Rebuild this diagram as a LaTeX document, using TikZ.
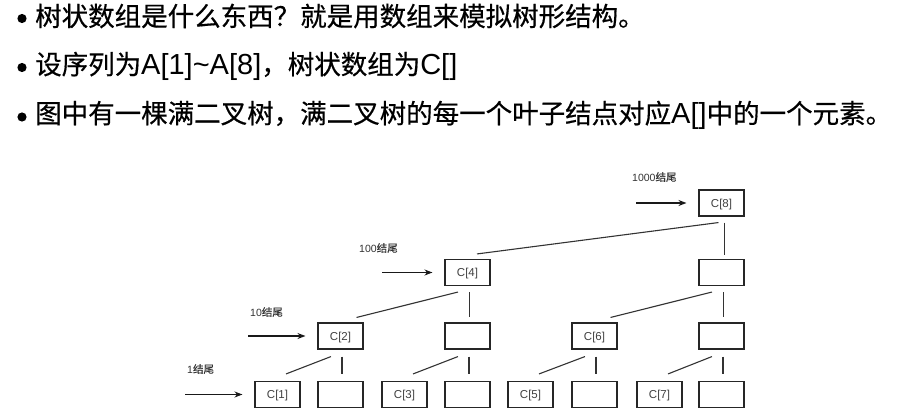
\documentclass[tikz,border=0pt]{standalone}
\usepackage{fontspec}
\setmainfont{Liberation Sans}
\newfontfamily\cjk{Noto Sans CJK SC}
\newfontfamily\cjkb{Noto Sans CJK SC}[FakeBold=0.5]
\usetikzlibrary{calc,arrows.meta}
\begin{document}
\begin{tikzpicture}[x=1pt,y=-1pt,
  line/.style={anchor=west,inner sep=0pt,font=\fontsize{26.5}{28}\selectfont},
  bul/.style={fill=black},
  box/.style={draw=black!85,line width=1.1pt,minimum width=45pt,minimum height=26pt,inner sep=0pt,text depth=0pt,font=\fontsize{11.5}{13}\selectfont,text=black!75},
  edge/.style={draw=black!80,line width=1.1pt},
  arr/.style={-{Stealth[length=8pt,width=6pt]},line width=1.1pt,draw=black!90,shorten >=12pt},
  lbl/.style={anchor=west,inner sep=0pt,font=\fontsize{10.5}{12}\selectfont,text=black!80}]
\useasboundingbox (0,0) rectangle (914,409);
\newcommand\latn[1]{{\fontsize{29}{30}\selectfont #1}}
% top text
\fill[bul] (22,18.5) circle (4.6pt);
\fill[bul] (22,67.5) circle (4.6pt);
\fill[bul] (22,117) circle (4.6pt);
\node[line] (t1) at (35,16) {\cjkb 树状数组是什么东西？就是用数组来模拟树形结构。};
\node[line] (t2) at (35,66) {{\cjkb 设序列为}\latn{A[1]\char`\~A[8]}{\cjkb ，树状数组为}\latn{C[]}};
\node[line] (t3) at (35,115) {{\cjkb 图中有一棵满二叉树，满二叉树的每一个叶子结点对应}\latn{A[]}{\cjkb 中的一个元素。}};
% leaves
\node[box] (c1) at (277.5,394.5) {C[1]};
\node[box] (c2l) at (340.5,394.5) {};
\node[box] (c3) at (404.5,394.5) {C[3]};
\node[box] (c4l) at (467.5,394.5) {};
\node[box] (c5) at (530.5,394.5) {C[5]};
\node[box] (c6l) at (594.5,394.5) {};
\node[box] (c7) at (659.5,394.5) {C[7]};
\node[box] (c8l) at (721.5,394.5) {};
% level 2
\node[box] (c2) at (340.5,336) {C[2]};
\node[box] (b4) at (467.5,336) {};
\node[box] (c6) at (594.5,336) {C[6]};
\node[box] (b8) at (721.5,336) {};
% level 3
\node[box] (c4) at (467.5,272.5) {C[4]};
\node[box] (bb8) at (721.5,272.5) {};
% level 4
\node[box] (c8) at (721.5,203) {C[8]};
% edges level2 -> leaves
\foreach \p/\a/\b in {c2/c1/c2l, b4/c3/c4l, c6/c5/c6l, b8/c7/c8l}{
  \draw[edge] ($(\p.south)+(-9.5,7)$) -- ($(\a.north)+(8.5,-7)$);
  \draw[edge] ($(\p.south)+(1.5,7)$) -- ($(\b.north)+(1.5,-7)$);
}
% level3 -> level2
\foreach \p/\a/\b in {c4/c2/b4, bb8/c6/b8}{
  \draw[edge] ($(\p.south)+(-9.5,6)$) -- ($(\a.north)+(16,-5)$);
  \draw[edge] ($(\p.south)+(2,6)$) -- ($(\b.north)+(2,-5)$);
}
% level4 -> level3
\draw[edge] ($(c8.south)+(-3,6)$) -- ($(c4.north)+(9.5,-5)$);
\draw[edge] ($(c8.south)+(3,6)$) -- ($(bb8.north)+(3,-4)$);
% arrows and labels
\coordinate (a1) at (185,394.5);
\coordinate (a2) at (248,336);
\coordinate (a3) at (382,272.5);
\coordinate (a4) at (636,203);
\draw[arr] (a1) -- (c1.west);
\draw[arr] (a2) -- (c2.west);
\draw[arr] (a3) -- (c4.west);
\draw[arr] (a4) -- (c8.west);
\node[lbl] (l1) at (187,369) {1{\cjkb 结尾}};
\node[lbl] (l2) at (250,312) {10{\cjkb 结尾}};
\node[lbl] (l3) at (359,248) {100{\cjkb 结尾}};
\node[lbl] (l4) at (632,177) {1000{\cjkb 结尾}};
\end{tikzpicture}
\end{document}
